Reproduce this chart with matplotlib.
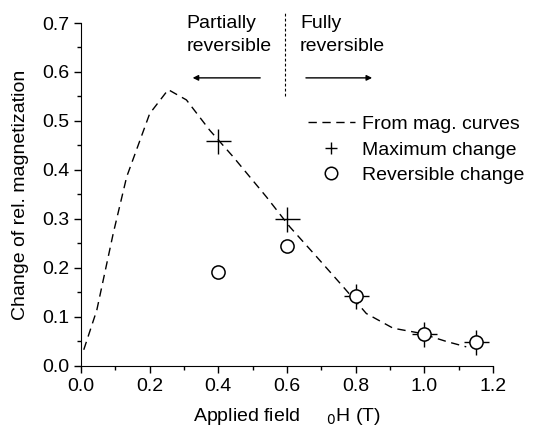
import numpy as np
import matplotlib.pyplot as plt
from matplotlib.ticker import MultipleLocator

plt.rcParams['font.family'] = ['Liberation Sans', 'DejaVu Sans']
plt.rcParams['font.size'] = 14

# dashed curve
curve_x = [0.008, 0.046, 0.094, 0.133, 0.20, 0.254, 0.307, 0.375, 0.443, 0.540,
           0.608, 0.686, 0.763, 0.831, 0.909, 0.987, 1.064, 1.122]
curve_y = [0.033, 0.114, 0.271, 0.386, 0.515, 0.564, 0.543, 0.481, 0.427, 0.345,
           0.284, 0.223, 0.162, 0.107, 0.077, 0.067, 0.050, 0.039]

field = [0.4, 0.6, 0.8, 1.0, 1.15]
max_change = [0.46, 0.30, 0.143, 0.065, 0.048]
rev_change = [0.192, 0.245, 0.143, 0.065, 0.048]

fig = plt.figure(figsize=(5.33, 4.26), dpi=100)
ax = fig.add_axes([0.152, 0.141, 0.773, 0.805])

ax.plot(curve_x, curve_y, 'k--', lw=1, dashes=(6, 4), label='From mag. curves')
ax.plot(field, max_change, 'k+', ms=18, mew=1, ls='none', label='Maximum change')
ax.plot(field, rev_change, 'o', mfc='white', mec='k', ms=9.5, mew=1.1, ls='none',
        label='Reversible change')

ax.set_xlim(0, 1.2)
ax.set_ylim(0, 0.7)
ax.xaxis.set_major_locator(MultipleLocator(0.2))
ax.xaxis.set_minor_locator(MultipleLocator(0.1))
ax.yaxis.set_major_locator(MultipleLocator(0.1))
ax.yaxis.set_minor_locator(MultipleLocator(0.05))
ax.xaxis.set_major_formatter(plt.FormatStrFormatter('%.1f'))
ax.yaxis.set_major_formatter(plt.FormatStrFormatter('%.1f'))
ax.tick_params(which='major', direction='out', length=5, width=1, labelsize=14)
ax.tick_params(which='minor', direction='out', length=3, width=1)
ax.spines['top'].set_visible(False)
ax.spines['right'].set_visible(False)

ax.set_xlabel('Applied field     $_0$H (T)', labelpad=8)
ax.set_ylabel('Change of rel. magnetization', labelpad=9)

# region annotations
ax.plot([0.594, 0.594], [0.55, 0.722], 'k--', lw=0.8, dashes=(2.5, 2), clip_on=False)
ax.annotate('', xy=(0.317, 0.588), xytext=(0.53, 0.588),
            arrowprops=dict(arrowstyle='-|>', color='k', lw=1, mutation_scale=8))
ax.annotate('', xy=(0.856, 0.588), xytext=(0.647, 0.588),
            arrowprops=dict(arrowstyle='-|>', color='k', lw=1, mutation_scale=8))
ax.text(0.308, 0.717, 'Partially\nreversible', ha='left', va='top', linespacing=1.5)
ax.text(0.638, 0.717, 'Fully\nreversible', ha='left', va='top', linespacing=1.5)

leg = ax.legend(loc='upper left', bbox_to_anchor=(0.551, 0.73), frameon=False,
                handlelength=2.4, handletextpad=0.4, labelspacing=0.4,
                borderaxespad=0, borderpad=0)
leg.legend_handles[1].set_markersize(9)
leg.legend_handles[2].set_markersize(9)

plt.savefig('out.png')
